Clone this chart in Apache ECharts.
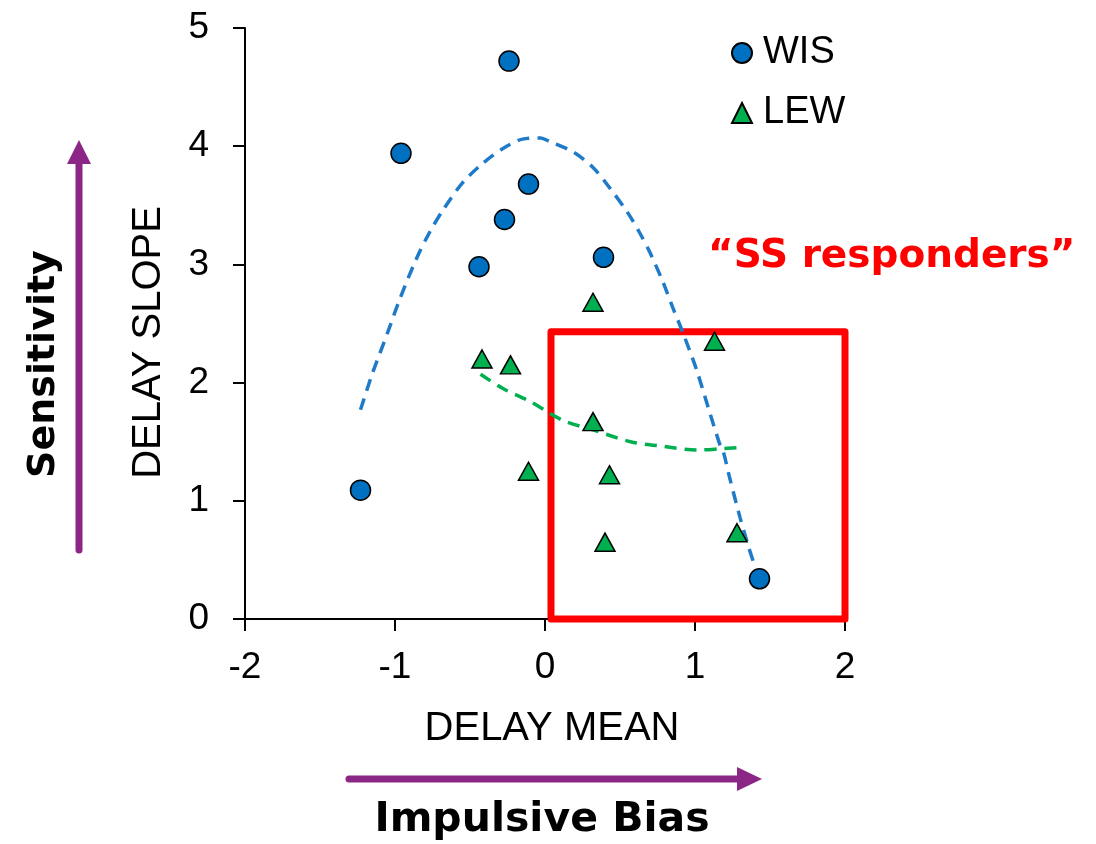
<!DOCTYPE html>
<html>
<head>
<meta charset="utf-8">
<script src="https://cdn.jsdelivr.net/npm/echarts@6/dist/echarts.min.js"></script>
<style>
  html, body { margin: 0; padding: 0; background: #fff; }
  #chart { width: 1096px; height: 844px; }
</style>
</head>
<body>
<div id="chart"></div>
<script>
// WIS subjects (circles)
const wisX = [-0.96, -0.24, -0.11, -0.27, -0.44, 0.39, -1.23, 1.43]
const wisY = [3.94, 4.72, 3.68, 3.38, 2.98, 3.06, 1.09, 0.34]
// LEW subjects (triangles)
const lewX = [0.32, -0.42, -0.23, -0.11, 0.32, 0.43, 0.40, 1.13, 1.28]
const lewY = [2.68, 2.20, 2.15, 1.25, 1.67, 1.22, 0.65, 2.35, 0.73]
// dashed trend curves
const wisFitX = [-1.23, -1.15, -1.05, -0.97, -0.86, -0.77, -0.68, -0.55, -0.41, -0.28, -0.15, -0.03, 0.03, 0.19, 0.32, 0.43, 0.55, 0.63, 0.70, 0.79, 0.85, 0.92, 1.01, 1.10, 1.17, 1.19, 1.23, 1.30, 1.35, 1.40]
const wisFitY = [1.77, 2.08, 2.42, 2.70, 3.04, 3.27, 3.46, 3.69, 3.86, 3.98, 4.06, 4.07, 4.04, 3.95, 3.82, 3.65, 3.44, 3.27, 3.10, 2.84, 2.64, 2.42, 2.11, 1.74, 1.46, 1.41, 1.20, 0.86, 0.64, 0.44]
const lewFitX = [-0.43, -0.28, -0.10, 0.12, 0.32, 0.57, 0.79, 1.01, 1.17, 1.28]
const lewFitY = [2.07, 1.95, 1.84, 1.68, 1.60, 1.50, 1.46, 1.43, 1.44, 1.45]
// "SS responders" box: x range and y range
const boxX = [0.04, 2.0]
const boxY = [0, 2.43]
// axis ticks
const xTicks = [-2, 2, 1]
const yTicks = [0, 5, 1]

const purple = '#8B2586'
const chartInstance = echarts.init(document.getElementById('chart'))

const zip = (xs, ys) => xs.map((x, i) => [x, ys[i]])
const boxData = [
  [boxX[0], boxY[0]], [boxX[1], boxY[0]], [boxX[1], boxY[1]],
  [boxX[0], boxY[1]], [boxX[0], boxY[0]]
]

const option = {
  backgroundColor: '#fff',
  animation: false,
  textStyle: { fontFamily: 'Liberation Sans' },
  grid: { left: 245, right: 251, top: 28, bottom: 225 },
  legend: {
    data: ['WIS', 'LEW'],
    orient: 'vertical',
    left: 726,
    top: 28,
    itemWidth: 20,
    itemHeight: 20,
    itemGap: 20,
    textStyle: { fontSize: 38, color: '#000', lineHeight: 40, padding: [0, 0, 0, 6] }
  },
  xAxis: {
    type: 'value',
    min: xTicks[0],
    max: xTicks[1],
    interval: xTicks[2],
    name: 'DELAY MEAN',
    nameLocation: 'middle',
    nameGap: 90,
    nameTextStyle: { fontSize: 40, color: '#000', padding: [0, 0, 0, 14] },
    axisLine: { onZero: false, lineStyle: { color: '#000', width: 2 } },
    axisTick: { length: 12, lineStyle: { color: '#000', width: 2 } },
    axisLabel: { fontSize: 37, color: '#000', margin: 30 },
    splitLine: { show: false }
  },
  yAxis: {
    type: 'value',
    min: yTicks[0],
    max: yTicks[1],
    interval: yTicks[2],
    name: 'DELAY SLOPE',
    nameLocation: 'middle',
    nameGap: 76,
    nameTextStyle: { fontSize: 40, color: '#000', padding: [0, 38, 0, 0] },
    axisLine: { show: true, onZero: false, lineStyle: { color: '#000', width: 2 } },
    axisTick: { show: true, length: 12, lineStyle: { color: '#000', width: 2 } },
    axisLabel: { fontSize: 37, color: '#000', margin: 36 },
    splitLine: { show: false }
  },
  series: [
    {
      name: 'box',
      type: 'line',
      data: boxData,
      showSymbol: false,
      clip: false,
      z: 1,
      lineStyle: { color: '#FF0000', width: 7, join: 'round', cap: 'round' }
    },
    {
      name: 'wisFit',
      type: 'line',
      data: zip(wisFitX, wisFitY),
      showSymbol: false,
      smooth: 0.3,
      z: 2,
      lineStyle: { color: '#1F7BC8', width: 3.5, type: [12, 8] }
    },
    {
      name: 'lewFit',
      type: 'line',
      data: zip(lewFitX, lewFitY),
      showSymbol: false,
      smooth: 0.3,
      z: 2,
      lineStyle: { color: '#00B050', width: 3.5, type: [12, 8] }
    },
    {
      name: 'WIS',
      type: 'scatter',
      data: zip(wisX, wisY),
      symbol: 'circle',
      symbolSize: 20,
      z: 5,
      itemStyle: { color: '#0070C0', borderColor: '#000', borderWidth: 1.5, opacity: 1 }
    },
    {
      name: 'LEW',
      type: 'scatter',
      data: zip(lewX, lewY),
      symbol: 'triangle',
      symbolSize: [20, 18],
      z: 5,
      itemStyle: { color: '#00B050', borderColor: '#000', borderWidth: 1.5, opacity: 1 }
    }
  ],
  graphic: [
    {
      type: 'text',
      left: 708,
      top: 237,
      style: {
        text: '\u201CSS responders\u201D',
        fontFamily: 'DejaVu Sans',
        fontWeight: 'bold',
        fontSize: 39,
        fill: '#FF0000'
      }
    },
    {
      type: 'text',
      x: 44,
      y: 364,
      rotation: Math.PI / 2,
      style: {
        text: 'Sensitivity',
        fontFamily: 'DejaVu Sans',
        fontWeight: 'bold',
        fontSize: 38,
        fill: '#000',
        align: 'center',
        verticalAlign: 'middle'
      }
    },
    {
      type: 'text',
      x: 542,
      y: 820,
      style: {
        text: 'Impulsive Bias',
        fontFamily: 'DejaVu Sans',
        fontWeight: 'bold',
        fontSize: 41,
        fill: '#000',
        align: 'center',
        verticalAlign: 'middle'
      }
    },
    {
      type: 'line',
      shape: { x1: 79, y1: 550, x2: 79, y2: 160 },
      style: { stroke: purple, lineWidth: 7, lineCap: 'round' }
    },
    {
      type: 'polygon',
      shape: { points: [[67, 164], [91, 164], [79, 140]] },
      style: { fill: purple }
    },
    {
      type: 'line',
      shape: { x1: 349, y1: 779, x2: 740, y2: 779 },
      style: { stroke: purple, lineWidth: 7, lineCap: 'round' }
    },
    {
      type: 'polygon',
      shape: { points: [[737, 767], [737, 791], [762, 779]] },
      style: { fill: purple }
    }
  ]
}

chartInstance.setOption(option)
</script>
</body>
</html>
